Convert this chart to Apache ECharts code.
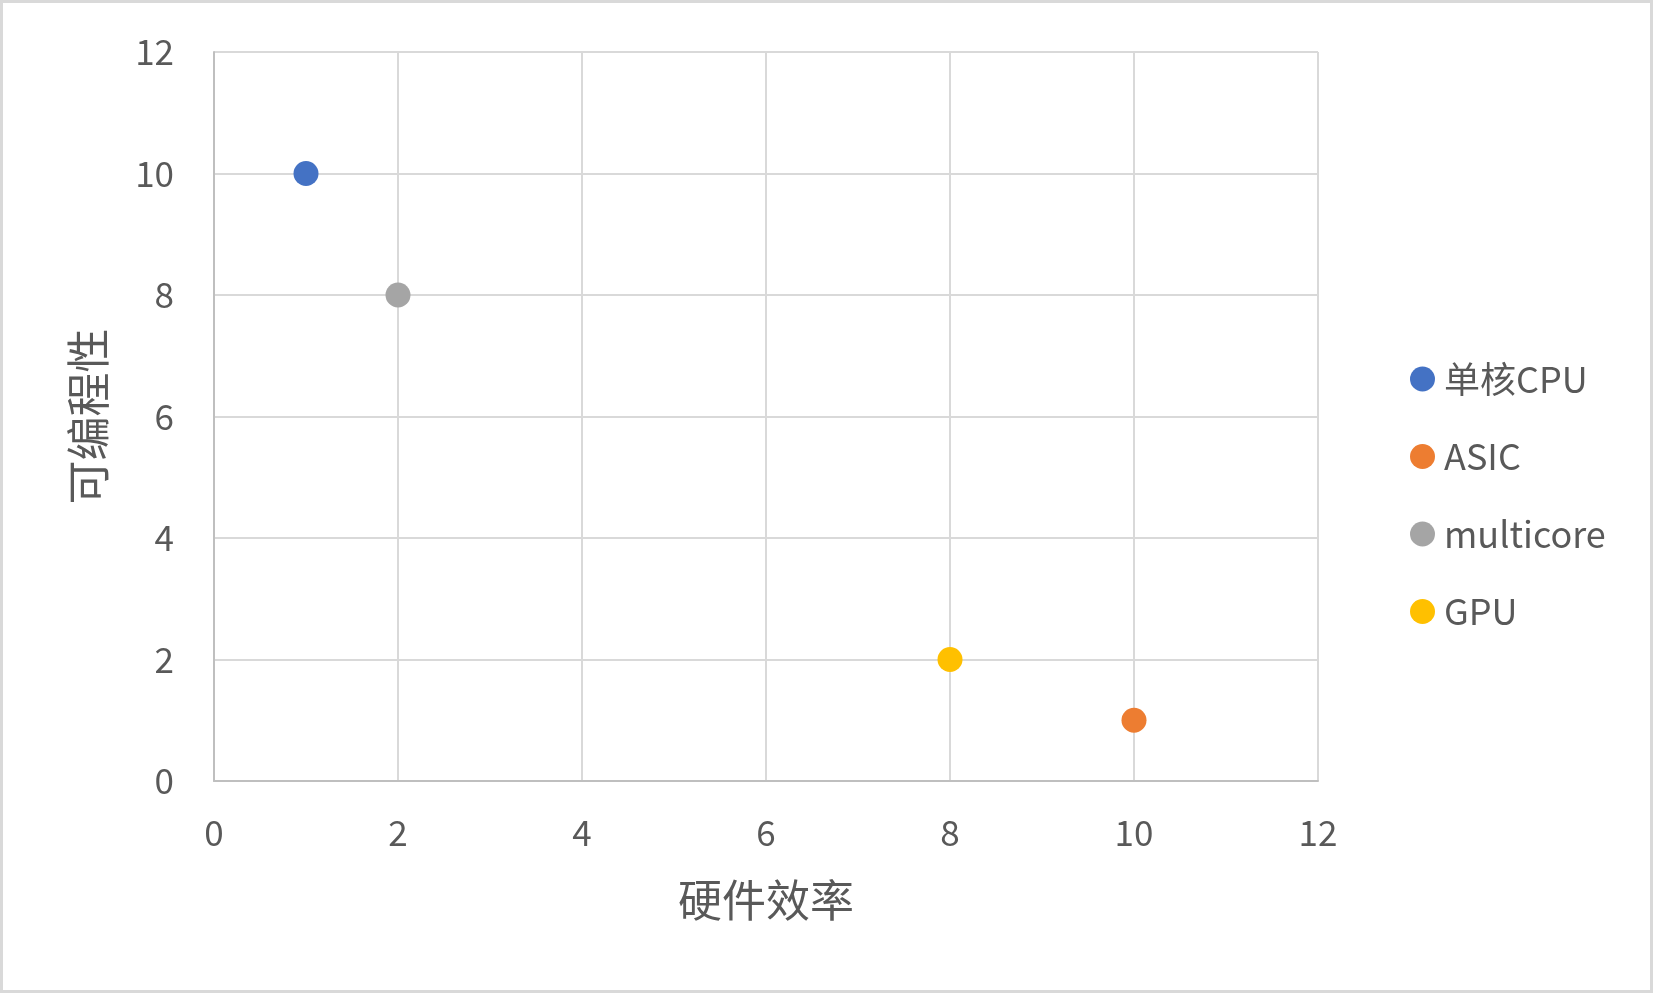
<!DOCTYPE html>
<html>
<head>
<meta charset="utf-8">
<script src="https://cdn.jsdelivr.net/npm/echarts@6/dist/echarts.min.js"></script>
<style>
html,body{margin:0;padding:0;background:#fff;}
#wrap{width:1653px;height:993px;box-sizing:border-box;border:3px solid #D9D9D9;position:relative;}
#chart{position:absolute;left:-3px;top:-3px;width:1653px;height:993px;}
</style>
</head>
<body>
<div id="wrap"><div id="chart"></div></div>
<script>
const seriesNames = ['单核CPU', 'ASIC', 'multicore', 'GPU'];
const seriesPoints = [[[1, 10]], [[10, 1]], [[2, 8]], [[8, 2]]];
const seriesColors = ['#4472C4', '#ED7D31', '#A5A5A5', '#FFC000'];
const xTicks = [0, 2, 4, 6, 8, 10, 12];
const yTicks = [0, 2, 4, 6, 8, 10, 12];
const xTitle = '硬件效率';
const yTitle = '可编程性';

const FONT = '"Noto Sans CJK SC", "Noto Sans", sans-serif';
const chart = echarts.init(document.getElementById('chart'), null, {renderer: 'canvas'});
chart.setOption({
  animation: false,
  textStyle: {fontFamily: FONT, color: '#595959'},
  grid: {left: 214, top: 52, width: 1104, height: 729, containLabel: false},
  xAxis: {
    type: 'value', min: xTicks[0], max: xTicks[xTicks.length - 1], interval: 2,
    name: xTitle, nameLocation: 'middle', nameGap: 97,
    nameTextStyle: {fontSize: 44, color: '#595959', fontFamily: FONT},
    axisLine: {show: true, lineStyle: {color: '#BFBFBF', width: 2}},
    axisTick: {show: false},
    axisLabel: {fontSize: 35, color: '#595959', margin: 34, fontFamily: FONT},
    splitLine: {show: true, lineStyle: {color: '#D9D9D9', width: 2}}
  },
  yAxis: {
    type: 'value', min: yTicks[0], max: yTicks[yTicks.length - 1], interval: 2,
    name: yTitle, nameLocation: 'middle', nameGap: 104, nameRotate: 90,
    nameTextStyle: {fontSize: 44, color: '#595959', fontFamily: FONT},
    axisLine: {show: true, lineStyle: {color: '#BFBFBF', width: 2}},
    axisTick: {show: false},
    axisLabel: {fontSize: 35, color: '#595959', margin: 40, fontFamily: FONT},
    splitLine: {show: true, lineStyle: {color: '#D9D9D9', width: 2}}
  },
  legend: {
    orient: 'vertical', left: 1405, top: 354,
    icon: 'circle', itemWidth: 25, itemHeight: 25, itemGap: 37.5,
    textStyle: {fontSize: 36, color: '#595959', lineHeight: 40, padding: [0, 0, 0, 4], fontFamily: FONT},
    data: seriesNames
  },
  series: seriesNames.map((n, i) => ({
    name: n, type: 'scatter', data: seriesPoints[i], symbol: 'circle', symbolSize: 25,
    itemStyle: {color: seriesColors[i], opacity: 1}
  }))
});
</script>
</body>
</html>
